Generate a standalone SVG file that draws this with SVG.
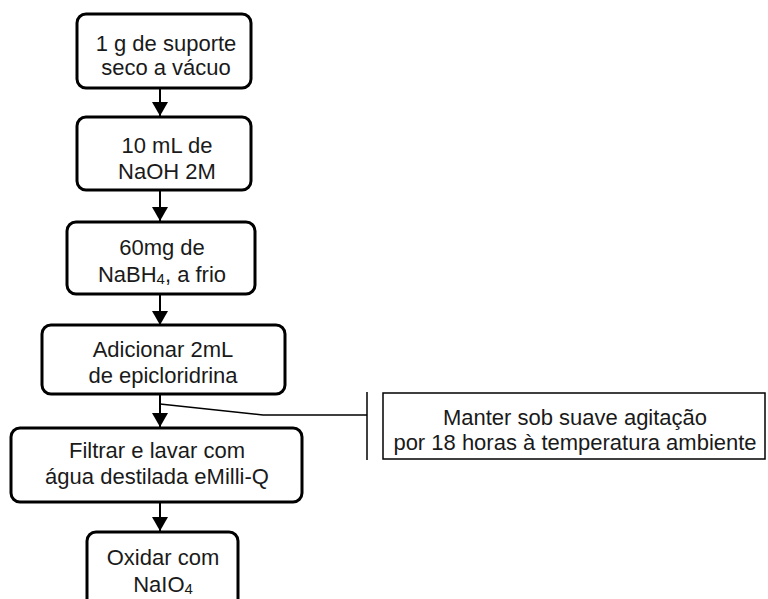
<svg xmlns="http://www.w3.org/2000/svg" width="768" height="599" viewBox="0 0 768 599">
<style>
.box{fill:#fff;stroke:#000;stroke-width:3}
.t{font-family:"Liberation Sans",Arial,sans-serif;font-size:22px;fill:#1a1a1a;text-anchor:middle}
.c{fill:none;stroke:#000;stroke-width:2}
.thin{fill:none;stroke:#000;stroke-width:1.5}
</style>
<defs>
<marker id="ah" viewBox="0 0 14 16" refX="14" refY="8" markerWidth="14" markerHeight="16" markerUnits="userSpaceOnUse" orient="auto">
<path d="M0,0 L14,8 L0,16 Z" fill="#000"/>
</marker>
</defs>
<rect width="768" height="599" fill="#fff"/>
<g id="connectors">
<line class="c" x1="160" y1="88" x2="160" y2="116" marker-end="url(#ah)"/>
<line class="c" x1="160" y1="190" x2="160" y2="221" marker-end="url(#ah)"/>
<line class="c" x1="160" y1="294" x2="160" y2="325" marker-end="url(#ah)"/>
<line class="c" x1="160" y1="395" x2="160" y2="427" marker-end="url(#ah)"/>
<line class="c" x1="160" y1="502" x2="160" y2="531" marker-end="url(#ah)"/>
<polyline class="thin" points="160,404 263,415 367,415"/>
<line class="thin" x1="367" y1="392" x2="367" y2="460"/>
</g>
<g id="n1">
<rect class="box" x="77" y="14" width="174" height="74" rx="9"/>
<text class="t" x="166" y="51">1 g de suporte</text>
<text class="t" x="166" y="75">seco a vácuo</text>
</g>
<g id="n2">
<rect class="box" x="77" y="117" width="174" height="73" rx="9"/>
<text class="t" x="167" y="153">10 mL de</text>
<text class="t" x="167" y="179">NaOH 2M</text>
</g>
<g id="n3">
<rect class="box" x="67" y="222" width="188" height="72" rx="9"/>
<text class="t" x="162" y="255">60mg de</text>
<text class="t" x="162" y="282">NaBH<tspan font-size="15" dy="2">4</tspan><tspan dy="-2">, a frio</tspan></text>
</g>
<g id="n4">
<rect class="box" x="42" y="325" width="243" height="69" rx="9"/>
<text class="t" x="163" y="357">Adicionar 2mL</text>
<text class="t" x="163" y="383">de epicloridrina</text>
</g>
<g id="n5">
<rect class="box" x="11" y="428" width="291" height="74" rx="9"/>
<text class="t" x="157" y="458">Filtrar e lavar com</text>
<text class="t" x="157" y="484">água destilada eMilli-Q</text>
</g>
<g id="n6">
<rect class="box" x="87" y="532" width="151" height="80" rx="9"/>
<text class="t" x="163" y="565">Oxidar com</text>
<text class="t" x="163" y="592">NaIO<tspan font-size="15" dy="2">4</tspan></text>
</g>
<g id="n7">
<rect x="383" y="393" width="382" height="66" fill="#fff" stroke="#000" stroke-width="1.5"/>
<text class="t" x="575" y="425">Manter sob suave agitação</text>
<text class="t" x="575" y="450">por 18 horas à temperatura ambiente</text>
</g>
</svg>
